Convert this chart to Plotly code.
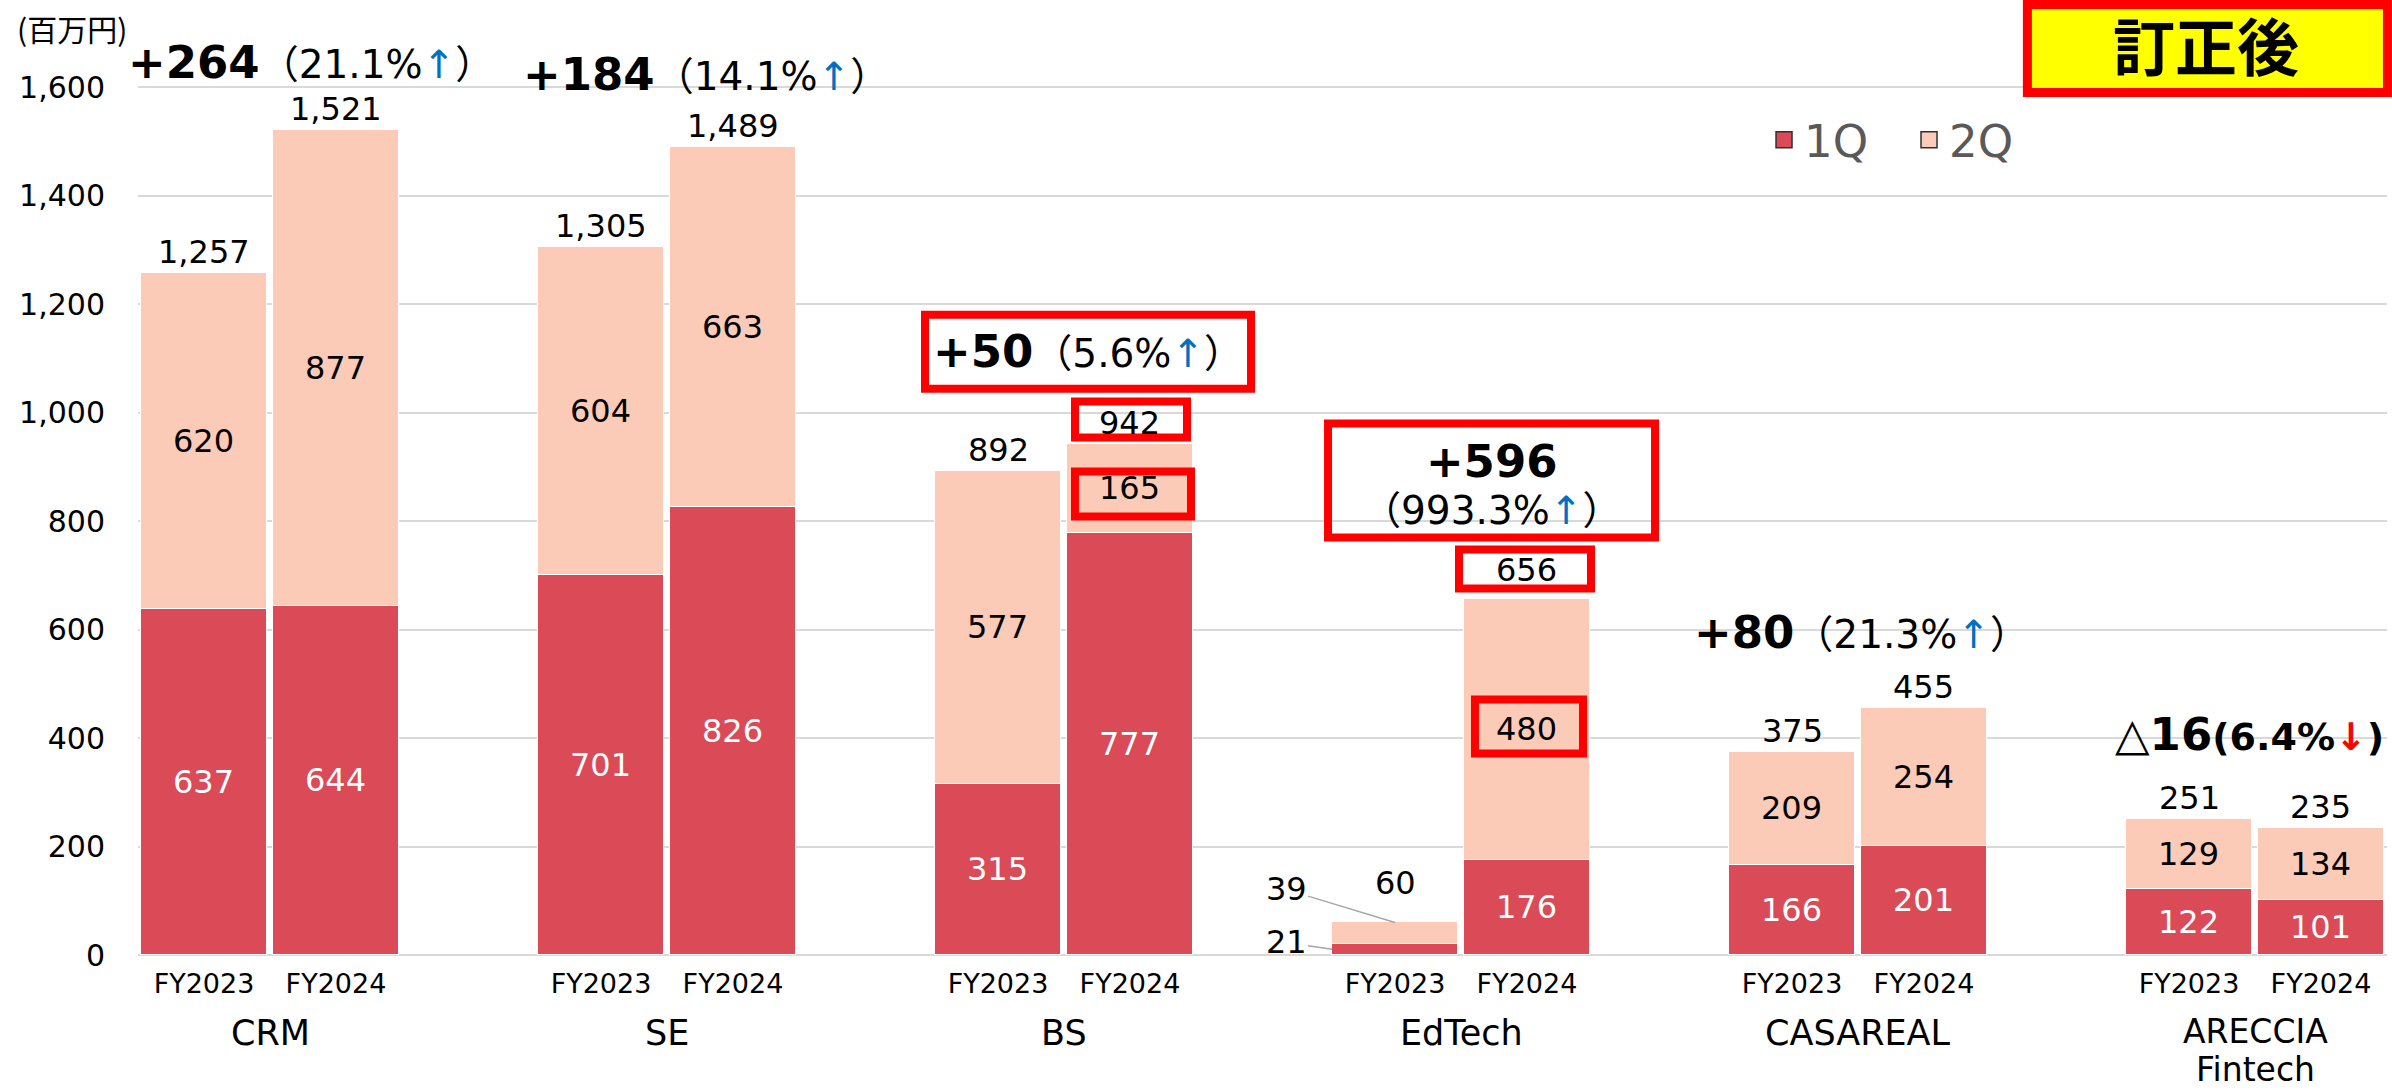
import plotly.graph_objects as go

# ---------------- data ----------------
groups = ["CRM", "SE", "BS", "EdTech", "CASAREAL", "ARECCIA\nFintech"]
years = ["FY2023", "FY2024"]
q1 = [637, 644, 701, 826, 315, 777, 21, 176, 166, 201, 122, 101]
q2 = [620, 877, 604, 663, 577, 165, 39, 480, 209, 254, 129, 134]
totals = [1257, 1521, 1305, 1489, 892, 942, 60, 656, 375, 455, 251, 235]
diff_abs = ["+264", "+184", "+50", "+596", "+80", "△16"]
diff_pct = ["21.1%", "14.1%", "5.6%", "993.3%", "21.3%", "6.4%"]
diff_dir = ["up", "up", "up", "up", "up", "down"]
y_ticks = [0, 200, 400, 600, 800, 1000, 1200, 1400, 1600]

# ---------------- style / layout ----------------
C1 = "#DA4A57"
C2 = "#FBCBB7"
FONT = "DejaVu Sans, Noto Sans CJK JP, sans-serif"
JFONT = "Noto Sans CJK JP, sans-serif"
RED = "#FF0000"
BLUE = "#0070C0"
GAP = 0.1662
BW = 0.3174

xs = [g + (GAP if j else -GAP) for g in range(len(groups)) for j in range(len(years))]
tick_text = [y for _ in groups for y in years]

leader_bars = {6}
text1 = ["" if i in leader_bars else str(v) for i, v in enumerate(q1)]
text2 = ["" if i in leader_bars else str(v) for i, v in enumerate(q2)]

fig = go.Figure()
fig.add_trace(go.Bar(
    x=xs, y=q1, width=BW, name="1Q", showlegend=False,
    marker=dict(color=C1, line=dict(color="white", width=1)),
    text=text1, textposition="inside", insidetextanchor="middle",
    constraintext="none", textangle=0,
    textfont=dict(color="white", size=32, family=FONT), hoverinfo="skip"))
fig.add_trace(go.Bar(
    x=xs, y=q2, width=BW, name="2Q", showlegend=False,
    marker=dict(color=C2, line=dict(color="white", width=1)),
    text=text2, textposition="inside", insidetextanchor="middle",
    constraintext="none", textangle=0,
    textfont=dict(color="black", size=32, family=FONT), hoverinfo="skip"))
# legend entries
for name, col in (("1Q", C1), ("2Q", C2)):
    fig.add_trace(go.Scatter(
        x=[None], y=[None], mode="markers", name=name,
        marker=dict(symbol="square", size=16, color=col,
                    line=dict(color="#303030", width=1.5))))

ann = []
# totals above bars
tot_shift = {6: 18, 7: 8}
for i, t in enumerate(totals):
    ann.append(dict(x=xs[i], y=t, text=f"{t:,}", showarrow=False,
                    yanchor="bottom", yshift=tot_shift.get(i, 0),
                    font=dict(size=32, color="black", family=FONT)))
# leader labels for the small EdTech FY2023 segments
i = 6
ann.append(dict(x=xs[i], y=totals[i], text=str(q2[i]), showarrow=True,
                arrowhead=0, arrowwidth=1.5, arrowcolor="#A6A6A6",
                ax=-109, ay=-33, font=dict(size=32, color="black", family=FONT)))
ann.append(dict(x=xs[i] - BW / 2, y=q1[i] / 2, text=str(q1[i]), showarrow=True,
                arrowhead=0, arrowwidth=1.5, arrowcolor="#A6A6A6",
                ax=-46, ay=-7, font=dict(size=32, color="black", family=FONT)))

# difference annotations
diff_pos = [(0.1045, 1645), (1.097, 1623), (2.0605, 1112),
            (3.0769, 868), (4.0087, 594), (4.9862, 407)]
for g in range(len(groups)):
    arrow = "↑" if diff_dir[g] == "up" else "↓"
    acol = BLUE if diff_dir[g] == "up" else RED
    if diff_dir[g] == "down":
        txt = (f"<b>{diff_abs[g]}<span style='font-size:38px'>({diff_pct[g]}"
               f"<span style='color:{acol}'>{arrow}</span>)</span></b>")
    elif g == 3:
        txt = (f"<b><span style='font-size:45px'>{diff_abs[g]}</span></b><br>"
               f"<span style='font-size:39px'>（{diff_pct[g]}"
               f"<span style='color:{acol}'>{arrow}</span>）</span>")
    else:
        txt = (f"<b>{diff_abs[g]}</b><span style='font-size:39px'>（{diff_pct[g]}"
               f"<span style='color:{acol}'>{arrow}</span>）</span>")
    x, y = diff_pos[g]
    ann.append(dict(x=x, y=y, text=txt, showarrow=False,
                    xanchor="center", yanchor="middle",
                    font=dict(size=45 if g != 3 else 36, color="black", family=FONT)))

# group names
for g, name in enumerate(groups):
    lines = name.split("\n")
    for k, line in enumerate(lines):
        ann.append(dict(x=g, xref="x", y=-0.0834, yref="paper", text=line,
                        xanchor="center", yanchor="middle",
                        showarrow=False, yshift=(1 - 38 * k if len(lines) > 1 else 0),
                        font=dict(size=33 if len(lines) > 1 else 35,
                                  color="black", family=FONT)))

# unit label
ann.append(dict(x=-0.0547, xref="paper", xanchor="left", y=0.9914, yref="paper",
                yanchor="middle", text="(百万円)", showarrow=False,
                font=dict(size=30, color="black", family=JFONT)))
# correction badge text
ann.append(dict(x=0.9195, xref="paper", y=0.9743, yref="paper",
                xanchor="center", yanchor="middle",
                text="<b>訂正後</b>", showarrow=False,
                font=dict(size=62, color="black", family=JFONT)))

shapes = []
# highlight boxes anchored to bars / labels (pixel sized)
boxes = [
    (xs[5], totals[5], -55, 57, 6.5, 42.5),
    (xs[5], q1[5] + q2[5] / 2, -55, 61, -27.8, 17.2),
    (xs[7], totals[7], -68, 64, 10.5, 49.5),
    (xs[7], q1[7] + q2[7] / 2, -52, 56, -24.2, 29.8),
    (diff_pos[2][0], diff_pos[2][1], -163, 163, -37, 37),
    (diff_pos[3][0], 874.7, -163.5, 163.5, -57, 57),
]
for ax_, ay_, x0, x1, y0, y1 in boxes:
    shapes.append(dict(type="rect", xref="x", yref="y",
                       xsizemode="pixel", ysizemode="pixel",
                       xanchor=ax_, yanchor=ay_, x0=x0, x1=x1, y0=y0, y1=y1,
                       line=dict(color=RED, width=8), fillcolor="rgba(0,0,0,0)"))
# badge box
shapes.append(dict(type="rect", xref="paper", yref="paper",
                   x0=0.8401, x1=1.0002, y0=0.9225, y1=1.0166,
                   line=dict(color=RED, width=9), fillcolor="#FFFF00"))

fig.update_layout(
    width=2392, height=1090,
    margin=dict(l=138, r=5, t=20, b=135),
    paper_bgcolor="white", plot_bgcolor="white",
    barmode="stack", bargap=0,
    font=dict(family=FONT, color="black"),
    annotations=ann, shapes=shapes,
    legend=dict(orientation="h", x=0.723, xanchor="left", y=0.8717, yanchor="middle",
                traceorder="normal",
                font=dict(size=45, color="#595959", family=FONT),
                bgcolor="rgba(0,0,0,0)", itemwidth=30, entrywidth=100),
    xaxis=dict(range=[-0.3325, 5.3325], tickmode="array", tickvals=xs,
               ticktext=tick_text, showgrid=False, zeroline=False, showline=False,
               ticks="", ticklabelstandoff=10,
               tickfont=dict(size=27, color="black", family=FONT)),
    yaxis=dict(range=[0, 1723.5], tickmode="array", tickvals=y_ticks,
               tickformat=",", showgrid=True, gridcolor="#D9D9D9", gridwidth=1.5,
               zeroline=True, zerolinecolor="#D9D9D9", zerolinewidth=2,
               showline=False, ticks="", ticklabelstandoff=32,
               tickfont=dict(size=30, color="black", family=FONT)),
)

fig.write_html("out.html", include_plotlyjs=True,
               config={"displayModeBar": False},
               post_script="document.body.style.margin='0';document.body.style.overflow='hidden';")
